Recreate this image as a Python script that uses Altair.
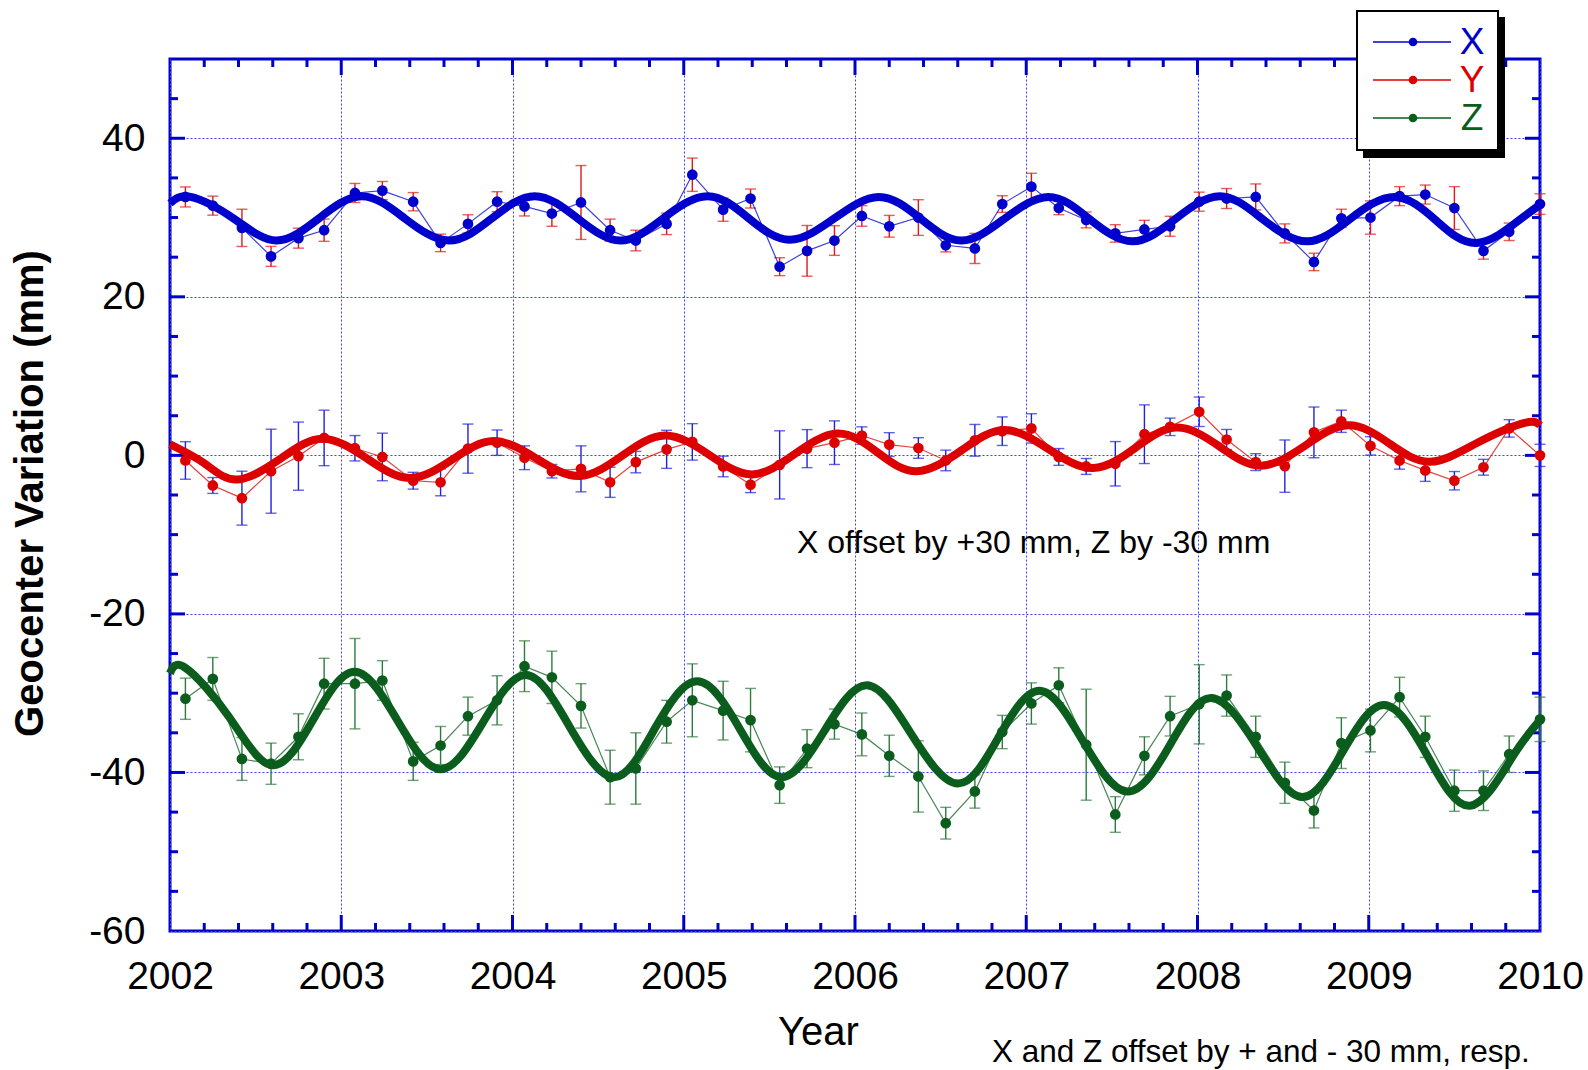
import altair as alt
import pandas as pd

# ---------------- data ----------------
years = [2002.09, 2002.25, 2002.42, 2002.59, 2002.75, 2002.90, 2003.08, 2003.24, 2003.42, 2003.58,
         2003.74, 2003.91, 2004.07, 2004.23, 2004.40, 2004.57, 2004.72, 2004.90, 2005.05, 2005.23,
         2005.39, 2005.56, 2005.72, 2005.88, 2006.04, 2006.20, 2006.37, 2006.53, 2006.70, 2006.86,
         2007.03, 2007.19, 2007.35, 2007.52, 2007.69, 2007.84, 2008.01, 2008.17, 2008.34, 2008.51,
         2008.68, 2008.84, 2009.01, 2009.18, 2009.33, 2009.50, 2009.67, 2009.82, 2010.00]

x_vals = [32.6, 31.5, 28.7, 25.1, 27.4, 28.4, 33.1, 33.4, 32.0, 26.8,
          29.2, 32.0, 31.4, 30.5, 31.9, 28.4, 27.1, 29.2, 35.4, 31.0,
          32.4, 23.8, 25.8, 27.1, 30.2, 28.9, 30.0, 26.5, 26.1, 31.7,
          33.9, 31.2, 29.7, 28.0, 28.5, 28.9, 32.0, 32.4, 32.6, 28.0,
          24.4, 29.9, 30.0, 32.7, 32.9, 31.2, 25.8, 28.2, 31.7]
x_err = [1.26, 1.2, 2.35, 1.26, 1.26, 1.4, 1.2, 1.15, 1.15, 1.1,
         1.15, 1.26, 1.2, 1.6, 4.66, 1.4, 1.3, 1.35, 2.1, 1.47,
         1.2, 1.13, 3.2, 1.87, 1.3, 1.37, 2.25, 0.84, 1.9, 1.05,
         1.68, 0.84, 1.0, 1.1, 1.15, 1.26, 1.2, 1.26, 1.64, 1.2,
         1.1, 1.15, 2.1, 1.2, 1.2, 2.7, 1.05, 1.1, 1.3]

y_vals = [-0.64, -3.8, -5.4, -2.0, -0.1, 2.2, 0.9, -0.2, -3.2, -3.4,
          0.85, 1.6, -0.3, -2.0, -1.7, -3.4, -0.85, 0.76, 1.7, -1.4,
          -3.7, -1.2, 0.85, 1.6, 2.5, 1.36, 0.93, -0.64, 1.9, 3.05,
          3.4, -0.2, -1.4, -1.06, 2.67, 3.6, 5.5, 2.0, -0.85, -1.36,
          2.9, 4.3, 1.2, -0.64, -1.9, -3.2, -1.5, 3.4, 0.0]
y_err = [2.37, 1.0, 3.4, 5.3, 4.3, 3.5, 1.6, 3.0, 1.06, 1.7,
         3.1, 1.6, 1.5, 0.85, 2.9, 1.9, 1.35, 2.4, 2.3, 1.3,
         1.0, 4.3, 2.4, 2.75, 1.1, 1.5, 1.3, 1.3, 2.0, 1.8,
         1.85, 1.06, 1.0, 2.8, 3.7, 1.1, 1.86, 1.27, 1.06, 3.3,
         3.2, 1.4, 1.16, 1.1, 1.38, 1.16, 1.0, 1.1, 1.4]

z_vals = [-30.7, -28.2, -38.3, -38.9, -35.5, -28.8, -28.8, -28.4, -38.6, -36.6,
          -32.9, -30.9, -26.6, -28.0, -31.6, -40.6, -39.5, -33.6, -30.9, -32.2,
          -33.4, -41.6, -37.0, -33.9, -35.2, -37.9, -40.5, -46.4, -42.4, -34.9,
          -31.3, -29.0, -36.5, -45.3, -37.9, -32.9, -31.4, -30.3, -35.5, -41.3,
          -44.8, -36.3, -34.7, -30.5, -35.5, -42.3, -42.3, -37.7, -33.3]
z_err = [2.6, 2.7, 2.7, 2.6, 2.9, 3.2, 5.7, 2.5, 2.4, 2.4,
         2.4, 3.1, 3.2, 3.3, 2.8, 3.4, 4.5, 2.7, 4.6, 3.7,
         4.0, 2.3, 2.4, 1.9, 2.7, 2.6, 4.5, 2.0, 2.1, 2.1,
         2.6, 2.2, 7.0, 2.25, 2.4, 2.5, 5.0, 2.6, 2.6, 2.6,
         2.2, 3.2, 2.7, 2.5, 2.6, 2.6, 2.5, 2.3, 2.8]

# fitted curves
x_fit_t = [2002.00, 2002.12, 2002.37, 2002.62, 2002.87, 2003.12, 2003.37, 2003.63, 2003.88,
           2004.13, 2004.38, 2004.63, 2004.88, 2005.14, 2005.38, 2005.62, 2005.88, 2006.14,
           2006.38, 2006.62, 2006.87, 2007.13, 2007.37, 2007.62, 2007.87, 2008.13, 2008.38,
           2008.64, 2008.89, 2009.15, 2009.39, 2009.63, 2009.88, 2010.00]
x_fit_v = [31.8, 32.6, 29.9, 27.1, 29.9, 32.7, 29.9, 27.1, 29.9,
           32.7, 29.9, 27.1, 29.9, 32.7, 29.9, 27.2, 29.9, 32.6,
           29.9, 27.1, 29.8, 32.6, 29.8, 27.0, 29.8, 32.7, 29.8,
           27.0, 29.8, 32.6, 29.7, 26.8, 29.7, 31.6]

y_fit_t = [2002.00, 2002.20, 2002.39, 2002.64, 2002.89, 2003.15, 2003.40, 2003.65, 2003.89,
           2004.14, 2004.39, 2004.64, 2004.89, 2005.15, 2005.40, 2005.65, 2005.90, 2006.13,
           2006.36, 2006.62, 2006.87, 2007.13, 2007.39, 2007.64, 2007.88, 2008.13, 2008.37,
           2008.63, 2008.88, 2009.12, 2009.36, 2009.64, 2009.91, 2010.00]
y_fit_v = [1.4, -1.0, -3.05, -0.5, 2.1, -0.4, -2.85, -0.5, 1.8,
           -0.4, -2.6, -0.05, 2.5, 0.05, -2.4, 0.2, 2.75, 0.4,
           -2.0, 0.6, 3.2, 0.8, -1.6, 1.0, 3.5, 1.1, -1.3,
           1.25, 3.8, 1.5, -0.8, 1.65, 4.1, 3.8]

z_fit_t = [2002.00, 2002.09, 2002.345, 2002.60, 2002.84, 2003.08, 2003.33, 2003.58, 2003.83,
           2004.08, 2004.33, 2004.59, 2004.83, 2005.08, 2005.33, 2005.57, 2005.82, 2006.07,
           2006.33, 2006.60, 2006.84, 2007.08, 2007.33, 2007.59, 2007.84, 2008.08, 2008.35,
           2008.61, 2008.85, 2009.09, 2009.34, 2009.59, 2009.84, 2010.00]
z_fit_v = [-27.5, -26.8, -33.0, -39.1, -33.2, -27.3, -33.5, -39.6, -33.6,
           -27.7, -34.1, -40.6, -34.5, -28.5, -34.6, -40.6, -34.8, -29.0,
           -35.2, -41.4, -35.5, -29.7, -36.0, -42.4, -36.5, -30.6, -36.8,
           -43.1, -37.3, -31.5, -37.8, -44.2, -38.0, -33.4]

# axis tick values
year_labels = [2002, 2003, 2004, 2005, 2006, 2007, 2008, 2009, 2010]
value_labels = [-60, -40, -20, 0, 20, 40]
y_major_ticks = [-40, -20, 0, 20, 40]
y_minor_ticks = [v for v in range(-55, 50, 5) if v % 20 != 0]
x_major_ticks = [2003, 2004, 2005, 2006, 2007, 2008, 2009]
x_minor_ticks = [yr + f for yr in range(2002, 2010) for f in (0.2, 0.4, 0.6, 0.8)]

# ---------------- styling ----------------
W, H = 1370, 872
FONT = "Liberation Sans"
FRAME = "#0000cc"
GRID = "#3d3dff"
BLUE, RED, GREEN = "#0000cc", "#dd0000", "#0b5d1e"

xs = alt.Scale(domain=[2002, 2010], nice=False, zero=False)
ys = alt.Scale(domain=[-60, 50], nice=False, zero=False)

xaxis = alt.Axis(values=year_labels, labelExpr="'' + datum.value", grid=True, gridColor=GRID,
                 gridDash=[2, 2], gridWidth=1, domain=False, ticks=False, labelFlush=False,
                 labelFont=FONT, labelFontSize=39, labelColor="black", labelPadding=26,
                 title="Year", titleFont=FONT, titleFontSize=40, titleFontWeight="normal",
                 titleColor="black", titleX=648, titleY=113, titleBaseline="alphabetic")
yaxis = alt.Axis(values=value_labels, labelExpr="'' + datum.value", grid=True, gridColor=GRID,
                 gridDash=[2, 2], gridWidth=1, domain=False, ticks=False, labelFlush=False,
                 labelFont=FONT, labelFontSize=39, labelColor="black", labelPadding=25,
                 title="Geocenter Variation (mm)", titleFont=FONT, titleFontSize=40,
                 titleFontWeight="bold", titleColor="black", titleAngle=270,
                 titleX=-140, titleY=434, titleBaseline="middle", titleAlign="center")


def X(field):
    return alt.X(field, type="quantitative", scale=xs, axis=xaxis)


def Y(field):
    return alt.Y(field, type="quantitative", scale=ys, axis=yaxis)


def series(vals, errs, fit_t, fit_v, color, errcolor):
    df = pd.DataFrame({"t": years, "v": vals, "e": errs})
    df["lo"] = df["v"] - df["e"]
    df["hi"] = df["v"] + df["e"]
    fit = pd.DataFrame({"t": fit_t, "v": fit_v})
    base = alt.Chart(df)
    err = base.mark_rule(color=errcolor, strokeWidth=1.4).encode(x=X("t"), y=Y("lo"), y2="hi")
    cap_lo = base.mark_tick(color=errcolor, orient="horizontal", size=11, thickness=1.4).encode(
        x=X("t"), y=Y("lo"))
    cap_hi = base.mark_tick(color=errcolor, orient="horizontal", size=11, thickness=1.4).encode(
        x=X("t"), y=Y("hi"))
    thin = base.mark_line(color=color, strokeWidth=1.2, opacity=0.75).encode(x=X("t"), y=Y("v"))
    thick = alt.Chart(fit).mark_line(color=color, strokeWidth=8, interpolate="natural").encode(
        x=X("t"), y=Y("v"))
    dots = base.mark_circle(color=color, size=115, opacity=1).encode(x=X("t"), y=Y("v"))
    return [err, cap_lo, cap_hi, thin, thick, dots]


# inside tick marks on all four sides
def ticks():
    layers = []
    for vals, ln in ((y_major_ticks, 15), (y_minor_ticks, 8)):
        d = alt.Chart(pd.DataFrame({"v": vals}))
        layers.append(d.mark_rule(color=FRAME, strokeWidth=3).encode(
            y=Y("v"), x=alt.value(0), x2=alt.value(ln)))
        layers.append(d.mark_rule(color=FRAME, strokeWidth=3).encode(
            y=Y("v"), x=alt.value(W), x2=alt.value(W - ln)))
    for vals, ln in ((x_major_ticks, 16), (x_minor_ticks, 8)):
        d = alt.Chart(pd.DataFrame({"t": vals}))
        layers.append(d.mark_rule(color=FRAME, strokeWidth=3).encode(
            x=X("t"), y=alt.value(H), y2=alt.value(H - ln)))
        layers.append(d.mark_rule(color=FRAME, strokeWidth=3).encode(
            x=X("t"), y=alt.value(0), y2=alt.value(ln)))
    return layers


one = pd.DataFrame({"k": [0]})


def legend():
    L = []
    L.append(alt.Chart(one).mark_rect(fill="black").encode(
        x=alt.value(1193), x2=alt.value(1335), y=alt.value(-42), y2=alt.value(99)))
    L.append(alt.Chart(one).mark_rect(fill="white", stroke="black", strokeWidth=2).encode(
        x=alt.value(1187), x2=alt.value(1328), y=alt.value(-48), y2=alt.value(91)))
    for name, col, yy in (("X", BLUE, -17), ("Y", RED, 21), ("Z", GREEN, 59)):
        L.append(alt.Chart(one).mark_rule(color=col, strokeWidth=1.5).encode(
            x=alt.value(1203), x2=alt.value(1281), y=alt.value(yy)))
        L.append(alt.Chart(one).mark_circle(color=col, size=75, opacity=1).encode(
            x=alt.value(1243), y=alt.value(yy)))
        L.append(alt.Chart(one).mark_text(text=name, color=col, font=FONT, fontSize=37,
                                          align="center", baseline="middle").encode(
            x=alt.value(1302), y=alt.value(yy + 1)))
    return L


notes = [
    alt.Chart(one).mark_text(text="X offset by +30 mm, Z by -30 mm", font=FONT, fontSize=32,
                             color="black", align="left", baseline="middle").encode(
        x=alt.value(627), y=alt.value(484)),
    alt.Chart(one).mark_text(text="X and Z offset by + and - 30 mm, resp.", font=FONT,
                             fontSize=31.5, color="black", align="left", baseline="middle").encode(
        x=alt.value(822), y=alt.value(994)),
]

layers = (ticks()
          + series(x_vals, x_err, x_fit_t, x_fit_v, BLUE, "#e01818")
          + series(y_vals, y_err, y_fit_t, y_fit_v, RED, "#2020dd")
          + series(z_vals, z_err, z_fit_t, z_fit_v, GREEN, "#2e7a3c")
          + notes + legend())

chart = alt.layer(*layers).properties(
    width=W, height=H,
    padding={"left": 10, "top": 10, "right": 0, "bottom": 0},
    background="white",
).configure_view(stroke=FRAME, strokeWidth=3)

chart.save("out.html", embed_options={"renderer": "svg", "actions": False})
